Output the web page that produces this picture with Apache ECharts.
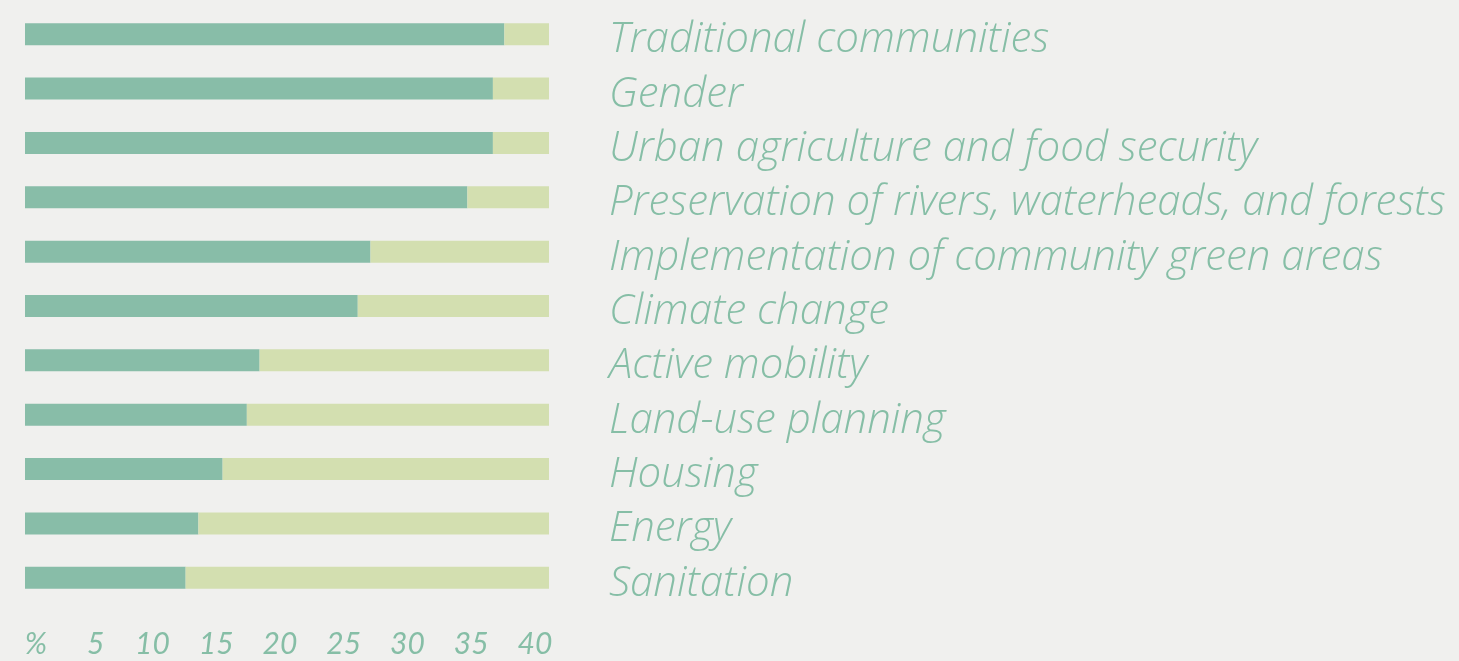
<!DOCTYPE html>
<html>
<head>
    <meta charset="utf-8">
    <title>Topics</title>
    <script type="text/javascript" src="https://cdn.jsdelivr.net/npm/echarts@6/dist/echarts.min.js"></script>
    <style>
        html, body { margin: 0; padding: 0; background: #f0f0ee; }
    </style>
</head>
<body>
<div id="main" style="width: 1459px;height:661px;"></div>
<script type="text/javascript">
    var categories = ['Traditional communities', 'Gender', 'Urban agriculture and food security',
        'Preservation of rivers, waterheads, and forests', 'Implementation of community green areas',
        'Climate change', 'Active mobility', 'Land-use planning', 'Housing', 'Energy', 'Sanitation'];
    // dark part of each bar (%)
    var shareValues = [37.6, 36.7, 36.7, 34.7, 27.1, 26.1, 18.4, 17.4, 15.5, 13.6, 12.6];
    // light rest of each bar
    var restValues = [3.5, 4.4, 4.4, 6.4, 14.0, 15.0, 22.7, 23.7, 25.6, 27.5, 28.5];
    var tickLabels = ['%', '5', '10', '15', '20', '25', '30', '35', '40'];

    var textColor = '#86bea6';
    var myChart = echarts.init(document.getElementById('main'));

    var option = {
        backgroundColor: '#f0f0ee',
        animation: false,
        grid: { left: 25, right: 910, top: 7, bottom: 56 },
        xAxis: {
            type: 'value',
            min: 0,
            max: 41.1,
            interval: 5,
            splitLine: { show: false },
            axisLine: { show: false },
            axisTick: { show: false },
            axisLabel: {
                showMaxLabel: false,
                margin: 24,
                color: textColor,
                fontFamily: 'Lato',
                fontStyle: 'italic',
                fontSize: 30,
                formatter: function (v) {
                    var i = Math.round(v / 5);
                    if (v % 5 !== 0 || i >= tickLabels.length) return '';
                    if (i === 0) return '{a|' + tickLabels[i] + '}';
                    if (i === 1) return '{b|' + tickLabels[i] + '}';
                    return tickLabels[i];
                },
                rich: {
                    a: { color: textColor, fontFamily: 'Lato', fontStyle: 'italic', fontSize: 30, padding: [0, 0, 0, 22] },
                    b: { color: textColor, fontFamily: 'Lato', fontStyle: 'italic', fontSize: 30, padding: [0, 0, 0, 14] }
                }
            }
        },
        yAxis: {
            type: 'category',
            data: categories,
            inverse: true,
            position: 'right',
            axisLine: { show: false },
            axisTick: { show: false },
            axisLabel: {
                interval: 0,
                hideOverlap: false,
                margin: 60,
                formatter: function (v) {
                    return '{t|' + v + '}';
                },
                rich: {
                    t: {
                        color: textColor,
                        fontFamily: 'Open Sans',
                        fontStyle: 'italic',
                        fontWeight: 300,
                        fontSize: 42,
                        lineHeight: 42,
                        padding: [12, 0, 0, 0]
                    }
                }
            }
        },
        series: [{
            name: 'share',
            type: 'bar',
            stack: 'total',
            barWidth: 22,
            itemStyle: { color: '#88bda8' },
            data: shareValues
        }, {
            name: 'rest',
            type: 'bar',
            stack: 'total',
            barWidth: 22,
            itemStyle: { color: '#d3dfb0' },
            data: restValues
        }]
    };

    myChart.setOption(option);
</script>
</body>
</html>
